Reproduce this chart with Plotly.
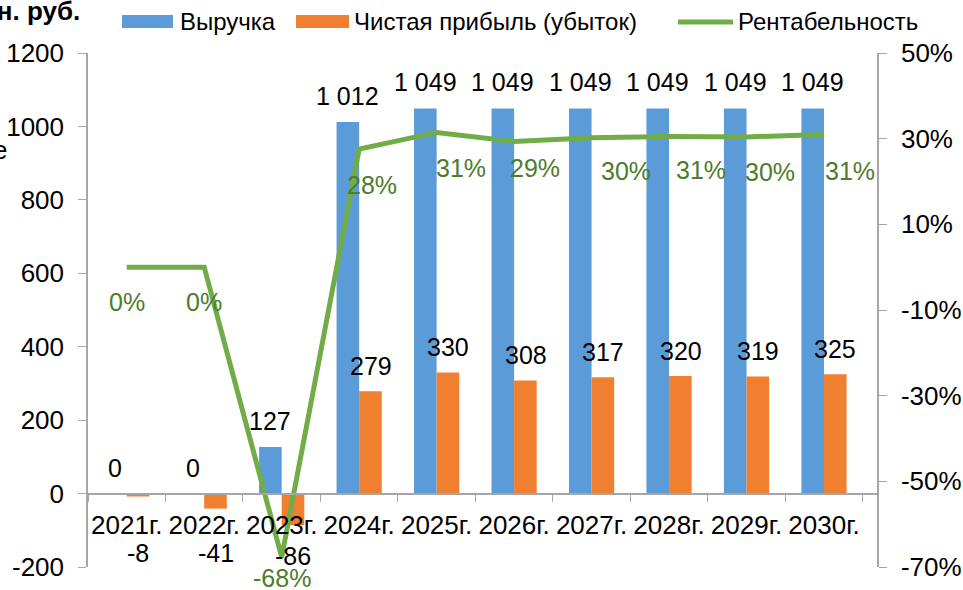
import plotly.graph_objects as go

years = ["2021г.", "2022г.", "2023г.", "2024г.", "2025г.", "2026г.", "2027г.", "2028г.", "2029г.", "2030г."]
revenue = [0, 0, 127, 1012, 1049, 1049, 1049, 1049, 1049, 1049]
profit = [-8, -41, -86, 279, 330, 308, 317, 320, 319, 325]
margin = [0.0, 0.0, -0.677, 0.2757, 0.3146, 0.2936, 0.3022, 0.3051, 0.3041, 0.3098]
margin_labels = ["0%", "0%", "-68%", "28%", "31%", "29%", "30%", "31%", "30%", "31%"]

y1_ticks = [-200, 0, 200, 400, 600, 800, 1000, 1200]
y1_text = ["-200", "0", "200", "400", "600", "800", "1000", "1200"]
y2_ticks = [-0.7, -0.5, -0.3, -0.1, 0.1, 0.3, 0.5]
y2_text = ["-70%", "-50%", "-30%", "-10%", "10%", "30%", "50%"]

# style: label offsets in pixels (placement only)
neg_label_shift = [-59, -59, -62]
pct_shift = [(0, -35), (0, -35), (0, -21), (13, -36), (24, -36), (21, -27),
             (34, -33), (32, -34), (23, -35), (26, -37)]

W, H = 963, 590
L, R, T, B = 88, 86, 53, 23
PW, PH = W - L - R, H - T - B

def px(x):
    return (x - L) / PW

def py(y):
    return (H - B - y) / PH

FONT = "Arial, Liberation Sans, sans-serif"
BLUE = "#5B9BD8"
ORANGE = "#F07F2F"
GREEN = "#70AD47"
GREEN_TXT = "#4E7B2C"
AXIS = "#A6A6A6"

fig = go.Figure()
fig.add_trace(go.Bar(x=years, y=revenue, name="Выручка", marker_color=BLUE,
                     marker_line_width=0, showlegend=False))
fig.add_trace(go.Bar(x=years, y=profit, name="Чистая прибыль (убыток)", marker_color=ORANGE,
                     marker_line_width=0, showlegend=False))
fig.add_trace(go.Scatter(x=years, y=margin, name="Рентабельность", yaxis="y2", mode="lines",
                         line=dict(color=GREEN, width=5), showlegend=False))

ann = []
bar_half = PW / len(years) * (1 - 0.417) / 4
for i, (yr, v) in enumerate(zip(years, revenue)):
    ann.append(dict(x=yr, y=v, xref="x", yref="y", text=f"{v:,}".replace(",", " "),
                    showarrow=False, xshift=-bar_half, yshift=26,
                    font=dict(size=25, color="black", family=FONT)))
neg_i = 0
for i, (yr, v) in enumerate(zip(years, profit)):
    if v < 0:
        ys = neg_label_shift[neg_i]
        neg_i += 1
        yv = 0
    else:
        ys = 25
        yv = v
    ann.append(dict(x=yr, y=yv, xref="x", yref="y", text=str(v),
                    showarrow=False, xshift=bar_half, yshift=ys,
                    font=dict(size=25, color="black", family=FONT)))
for i, (yr, v, t) in enumerate(zip(years, margin, margin_labels)):
    dx, dy = pct_shift[i]
    ann.append(dict(x=yr, y=v, xref="x", yref="y2", text=t, showarrow=False,
                    xshift=dx, yshift=dy, font=dict(size=25, color=GREEN_TXT, family=FONT)))

# title fragments
ann.append(dict(x=px(82), y=py(11), xref="paper", yref="paper", xanchor="right", yanchor="middle",
                text="<b>млн. руб.</b>", showarrow=False, font=dict(size=26, color="black", family=FONT)))
ann.append(dict(x=px(9), y=py(150), xref="paper", yref="paper", xanchor="right", yanchor="middle",
                text="е", showarrow=False, font=dict(size=26, color="black", family=FONT)))

# manual legend
shapes = [
    dict(type="rect", xref="paper", yref="paper", x0=px(122), x1=px(173), y0=py(28), y1=py(15),
         fillcolor=BLUE, line=dict(width=0)),
    dict(type="rect", xref="paper", yref="paper", x0=px(296), x1=px(349), y0=py(28), y1=py(15),
         fillcolor=ORANGE, line=dict(width=0)),
    dict(type="line", xref="paper", yref="paper", x0=px(678), x1=px(733), y0=py(22), y1=py(22),
         line=dict(color=GREEN, width=5)),
]
for xl, t in [(178, "Выручка"), (352, "Чистая прибыль (убыток)"), (736, "Рентабельность")]:
    ann.append(dict(x=px(xl), y=py(22), xref="paper", yref="paper", xanchor="left", yanchor="middle",
                    text=t, showarrow=False, font=dict(size=24, color="black", family=FONT)))

fig.update_layout(
    width=W, height=H,
    margin=dict(l=L, r=R, t=T, b=B, pad=0, autoexpand=False),
    paper_bgcolor="white", plot_bgcolor="white",
    barmode="group", bargap=0.417, bargroupgap=0,
    font=dict(family=FONT, size=25, color="black"),
    xaxis=dict(type="category", anchor="free", position=200 / 1400, showline=True, linecolor=AXIS,
               linewidth=1.5, ticks="outside", ticklen=8, tickcolor=AXIS, tickson="boundaries",
               showgrid=False, tickfont=dict(size=26, color="black"), ticklabelstandoff=8,
               tickangle=0, zeroline=False, automargin=False),
    yaxis=dict(range=[-200, 1200], tickvals=y1_ticks, ticktext=y1_text, showgrid=False,
               zeroline=False, showline=True, linecolor=AXIS, linewidth=1.5, ticks="outside",
               ticklen=8, tickcolor=AXIS, tickfont=dict(size=26, color="black"),
               ticklabelstandoff=9, automargin=False),
    yaxis2=dict(range=[-0.7, 0.5], tickvals=y2_ticks, ticktext=y2_text, overlaying="y",
                side="right", showgrid=False, zeroline=False, showline=True, linecolor=AXIS,
                linewidth=1.5, ticks="outside", ticklen=8, tickcolor=AXIS,
                tickfont=dict(size=26, color="black"), ticklabelstandoff=9, automargin=False),
    annotations=ann, shapes=shapes,
)

fig.write_html("out.html", config={"displayModeBar": False},
               post_script="document.body.style.margin='0';document.body.style.overflow='hidden';")
